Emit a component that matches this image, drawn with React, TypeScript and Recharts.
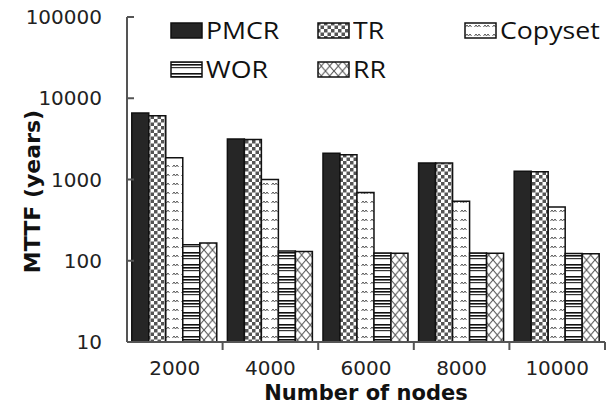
import React from "react";
import { BarChart, Bar, XAxis, YAxis } from "recharts";

const nodes = ["2000", "4000", "6000", "8000", "10000"];
const pmcr = [6600, 3150, 2100, 1600, 1260];
const tr = [6100, 3100, 2020, 1600, 1250];
const copyset = [1850, 1000, 690, 540, 460];
const wor = [157, 132, 125, 125, 123];
const rr = [165, 130, 124, 124, 122];
const yTicks = [10, 100, 1000, 10000, 100000];

const data = nodes.map((n, i) => ({
  nodes: n,
  PMCR: pmcr[i],
  TR: tr[i],
  Copyset: copyset[i],
  WOR: wor[i],
  RR: rr[i],
}));

const series = [
  { key: "PMCR", fill: "#262626" },
  { key: "TR", fill: "url(#pat-tr)" },
  { key: "Copyset", fill: "url(#pat-copy)" },
  { key: "WOR", fill: "url(#pat-wor)" },
  { key: "RR", fill: "url(#pat-rr)" },
];

// legend layout: 3 columns, 2 rows
const legendRows = [
  ["PMCR", "TR", "Copyset"],
  ["WOR", "RR"],
];

const Patterns = () => (
  <svg width={0} height={0} style={{ position: "absolute" }}>
    <defs>
      <pattern id="pat-tr" width={7} height={7} patternUnits="userSpaceOnUse">
        <rect width={7} height={7} fill="#fff" />
        <rect width={3.5} height={3.5} fill="#555" />
        <rect x={3.5} y={3.5} width={3.5} height={3.5} fill="#555" />
      </pattern>
      <pattern id="pat-copy" width={9} height={9} patternUnits="userSpaceOnUse">
        <rect width={9} height={9} fill="#fff" />
        <path d="M1.5 5 l1.5 -2 l1.5 2 l1.5 -2 l1.5 2" stroke="#555" strokeWidth={1} fill="none" />
      </pattern>
      <pattern id="pat-wor" width={8} height={12} patternUnits="userSpaceOnUse">
        <rect width={8} height={12} fill="#fff" />
        <rect y={0} width={8} height={1.6} fill="#111" />
        <rect y={3} width={8} height={1.6} fill="#111" />
        <rect y={6} width={8} height={1.2} fill="#333" />
      </pattern>
      <pattern id="pat-rr" width={8.5} height={10} patternUnits="userSpaceOnUse">
        <rect width={8.5} height={10} fill="#fff" />
        <path d="M0 0 L4.25 5 L0 10 M8.5 0 L4.25 5 L8.5 10" stroke="#555" strokeWidth={1.1} fill="none" />
      </pattern>
    </defs>
  </svg>
);

const XTick = (props: any) => {
  const { x, y, payload } = props;
  const off = payload.offset || 0;
  return (
    <g>
      <line x1={x + off} x2={x + off} y1={y} y2={y + 8} stroke="#555" strokeWidth={2} />
      <text x={x} y={y + 33} textAnchor="middle" fontFamily="DejaVu Sans" fontSize={20} fill="#222">
        {payload.value}
      </text>
    </g>
  );
};

const YTitle = () => (
  <text
    transform="translate(39.5,191.5) rotate(-90)"
    textAnchor="middle"
    fontFamily="DejaVu Sans"
    fontWeight="bold"
    fontSize={22}
    fill="#111"
  >
    MTTF (years)
  </text>
);

const Legend = () => (
  <div style={{ position: "absolute", left: 170, top: 22 }}>
    {legendRows.map((row, r) => (
      <div key={r} style={{ display: "flex", height: 39 }}>
        {row.map((name) => {
          const s = series.find((d) => d.key === name)!;
          return (
            <div key={name} style={{ width: 147, display: "flex", alignItems: "flex-start" }}>
              <svg width={33} height={17} style={{ display: "block" }}>
                <rect x={1} y={1} width={31} height={15} fill={s.fill} stroke="#111" strokeWidth={1.5} />
              </svg>
              <span
                style={{
                  fontFamily: "Open Sans",
                  fontSize: 23,
                  fontWeight: 500,
                  lineHeight: "17px",
                  color: "#111",
                  marginLeft: 3,
                  display: "inline-block",
                  transform: "scaleX(1.16)",
                  transformOrigin: "left center",
                }}
              >
                {name}
              </span>
            </div>
          );
        })}
      </div>
    ))}
  </div>
);

export default function App() {
  return (
    <div style={{ position: "absolute", left: 0, top: 0, width: 607, height: 406, background: "#fff" }}>
      <Patterns />
      <BarChart
        width={607}
        height={406}
        data={data}
        margin={{ top: 17, right: 2, left: 0, bottom: 0 }}
        barCategoryGap="5%"
        barGap={0}
      >
        <XAxis
          dataKey="nodes"
          height={64}
          tickLine={false}
          tickSize={0}
          tickMargin={0}
          tick={<XTick />}
          axisLine={{ stroke: "#555", strokeWidth: 2 }}
          interval={0}
          label={{
            value: "Number of nodes",
            position: "insideBottom",
            offset: 6,
            fontFamily: "DejaVu Sans",
            fontWeight: "bold",
            fontSize: 21,
            fill: "#111",
          }}
        />
        <YAxis
          width={127}
          scale="log"
          domain={[10, 100000]}
          ticks={yTicks}
          allowDataOverflow
          axisLine={{ stroke: "#555", strokeWidth: 2 }}
          tickLine={{ stroke: "#555", strokeWidth: 2 }}
          tickSize={-7}
          tickMargin={32}
          tick={{ fontFamily: "DejaVu Sans", fontSize: 20, fill: "#222" }}
          label={() => <YTitle />}
        />
        {series.map((s) => (
          <Bar
            key={s.key}
            dataKey={s.key}
            fill={s.fill}
            stroke="#111"
            strokeWidth={1.5}
            isAnimationActive={false}
          />
        ))}
      </BarChart>
      <Legend />
    </div>
  );
}
